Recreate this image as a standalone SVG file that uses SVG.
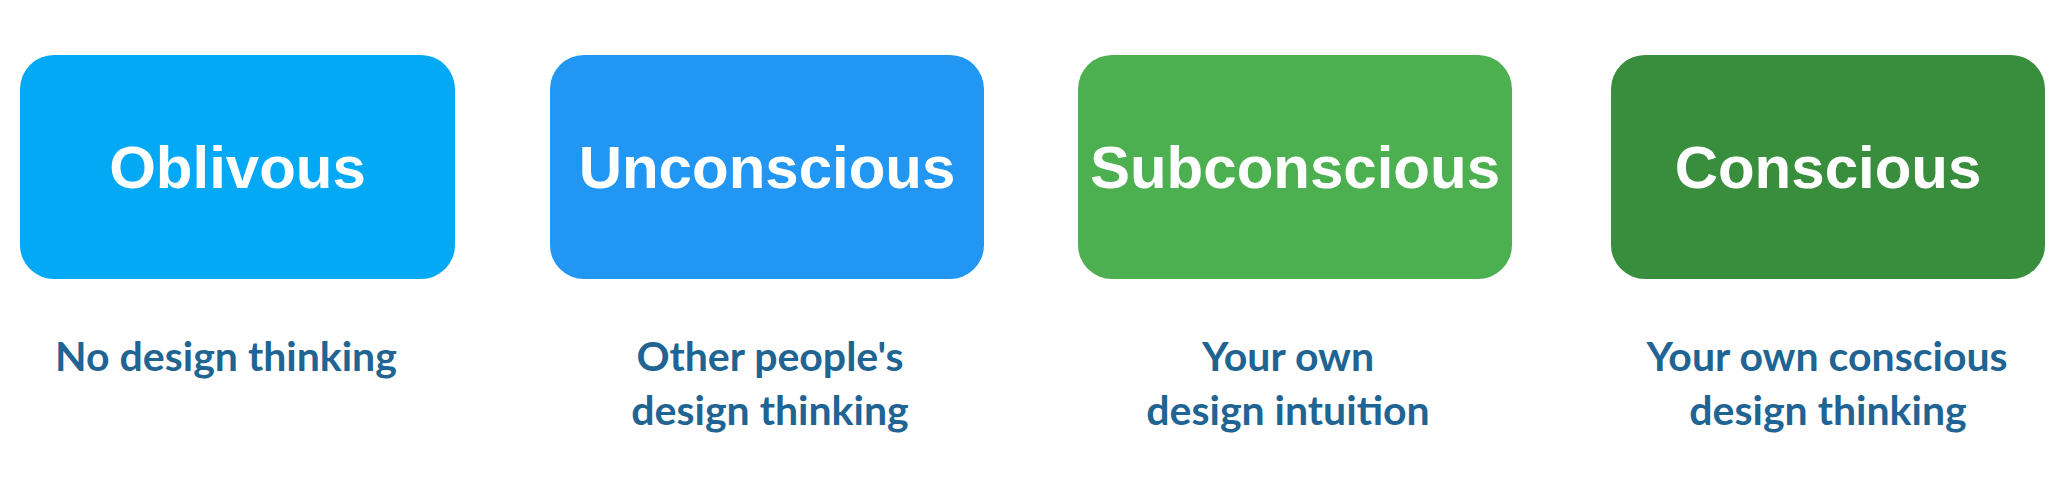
<svg xmlns="http://www.w3.org/2000/svg" width="2066" height="486" viewBox="0 0 2066 486">
<style>
.box{stroke:none}
.title{font-family:"Liberation Sans",Arial,sans-serif;font-weight:bold;font-size:60px;fill:#ffffff;text-anchor:middle}
.sub{font-family:Lato,"Open Sans",sans-serif;font-weight:bold;font-size:41px;fill:#1F6492;text-anchor:middle}
</style>
<rect width="2066" height="486" fill="#ffffff"/>
<g id="connectors"></g>
<g id="node-oblivous">
<rect class="box" x="20" y="55" width="435" height="224" rx="34" ry="34" fill="#03A9F4"/>
<text class="title" x="237.5" y="188">Oblivous</text>
<text class="sub" x="226" y="371">No design thinking</text>
</g>
<g id="node-unconscious">
<rect class="box" x="550" y="55" width="434" height="224" rx="34" ry="34" fill="#2196F3"/>
<text class="title" x="767" y="188">Unconscious</text>
<text class="sub" x="770" y="371">Other people's</text>
<text class="sub" x="770" y="425">design thinking</text>
</g>
<g id="node-subconscious">
<rect class="box" x="1078" y="55" width="434" height="224" rx="34" ry="34" fill="#4CAF50"/>
<text class="title" x="1295" y="188">Subconscious</text>
<text class="sub" x="1288" y="371">Your own</text>
<text class="sub" x="1288" y="425">design intuition</text>
</g>
<g id="node-conscious">
<rect class="box" x="1611" y="55" width="434" height="224" rx="34" ry="34" fill="#388E3C"/>
<text class="title" x="1828" y="188">Conscious</text>
<text class="sub" x="1827" y="371">Your own conscious</text>
<text class="sub" x="1828" y="425">design thinking</text>
</g>
</svg>
